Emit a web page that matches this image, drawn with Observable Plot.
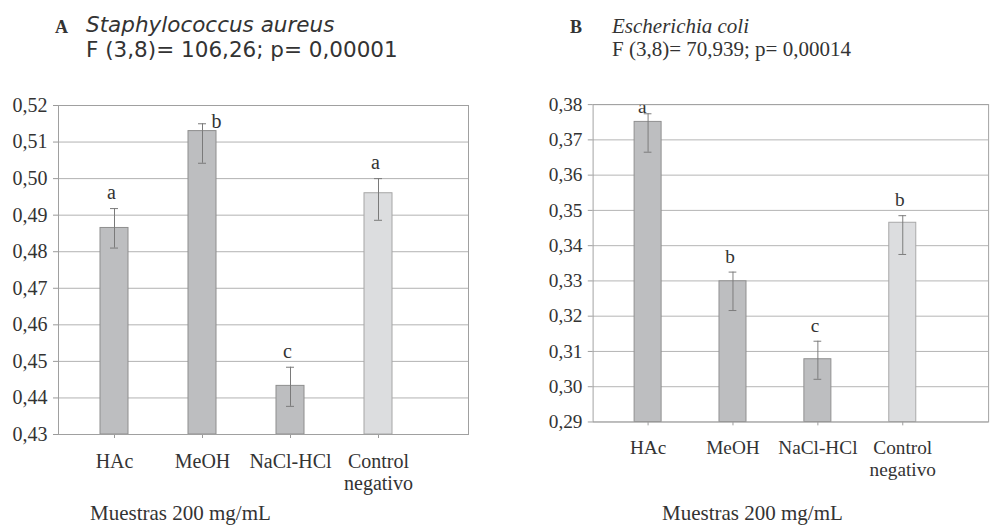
<!DOCTYPE html>
<html><head><meta charset="utf-8">
<script src="https://cdn.jsdelivr.net/npm/d3@7"></script>
<script src="https://cdn.jsdelivr.net/npm/@observablehq/plot@0.6"></script>
<style>
html,body{margin:0;padding:0;background:#fff;}
#wrap{position:relative;width:992px;height:525px;overflow:hidden;background:#fff;color:#333;}
.t{position:absolute;white-space:nowrap;line-height:1;color:#333;}
.serif{font-family:"Liberation Serif","Times New Roman",serif;}
.sans{font-family:"DejaVu Sans",Verdana,sans-serif;}
.panel{position:absolute;top:80px;}
</style></head><body>
<div id="wrap">
  <div class="t serif" style="left:55px;top:18px;font-size:18px;font-weight:bold">A</div>
  <div class="t sans" style="left:86px;top:14px;font-size:21.5px;font-style:italic">Staphylococcus aureus</div>
  <div class="t sans" style="left:86px;top:39px;font-size:21.5px">F (3,8)= 106,26; p= 0,00001</div>
  <div class="t serif" style="left:570px;top:18px;font-size:18px;font-weight:bold">B</div>
  <div class="t serif" style="left:612px;top:16px;font-size:21px;font-style:italic">Escherichia coli</div>
  <div class="t serif" style="left:612px;top:39px;font-size:21px">F (3,8)= 70,939; p= 0,00014</div>
  <div id="left" class="panel" style="left:0px"></div>
  <div id="right" class="panel" style="left:500px"></div>
  <div class="t serif" style="left:90px;top:503px;font-size:21px">Muestras 200 mg/mL</div>
  <div class="t serif" style="left:662px;top:503px;font-size:21px">Muestras 200 mg/mL</div>
</div>
<script>
// ---- data ----
const categories = ["HAc", "MeOH", "NaCl-HCl", "Control negativo"];
const tickLabels = ["HAc", "MeOH", "NaCl-HCl", "Control\nnegativo"];
const groups = ["muestra", "muestra", "muestra", "control"];

// A: Staphylococcus aureus
const saMean = [0.4865, 0.5130, 0.4433, 0.4960];
const saLow = [0.4810, 0.5042, 0.4377, 0.4886];
const saHigh = [0.4918, 0.5150, 0.4484, 0.5000];
const saLetters = ["a", "b", "c", "a"];
const saTicks = [0.43, 0.44, 0.45, 0.46, 0.47, 0.48, 0.49, 0.50, 0.51, 0.52];

// B: Escherichia coli
const ecMean = [0.3751, 0.3299, 0.3078, 0.3465];
const ecLow = [0.3665, 0.3216, 0.3021, 0.3375];
const ecHigh = [0.3774, 0.3325, 0.3129, 0.3485];
const ecLetters = ["a", "b", "c", "b"];
const ecTicks = [0.29, 0.30, 0.31, 0.32, 0.33, 0.34, 0.35, 0.36, 0.37, 0.38];

const serif = '"Liberation Serif","Times New Roman",serif';
const fmt = d => d.toFixed(2).replace(".", ",");

function panel({mean, low, high, letters, ticks, width, marginLeft, marginRight, xRange, padInner, topDx, topDy}) {
  const rows = categories.map((c, i) => ({cat: c, mean: mean[i], low: low[i], high: high[i], letter: letters[i], group: groups[i]}));
  const yMin = ticks[0], yMax = ticks[ticks.length - 1];
  const nearTop = d => d.high + 0.0055 > yMax;
  const errColor = "#7a7a7a";
  return Plot.plot({
    width, height: 445,
    marginTop: 25, marginBottom: 91, marginLeft, marginRight,
    style: {fontFamily: serif, fontSize: "20px", color: "#333", background: "transparent", overflow: "visible"},
    x: {domain: categories, range: xRange, paddingInner: padInner, paddingOuter: 0, align: 0.5},
    y: {domain: [yMin, yMax]},
    marks: [
      Plot.gridY(ticks, {stroke: "#b2b2b2", strokeOpacity: 1}),
      Plot.barY(rows.filter(d => d.group === "muestra"), {x: "cat", y1: yMin, y2: "mean", fill: "#bdbec0", stroke: "#8e8e8e"}),
      Plot.barY(rows.filter(d => d.group === "control"), {x: "cat", y1: yMin, y2: "mean", fill: "#dcdddf", stroke: "#a6a6a6"}),
      Plot.ruleX(rows, {x: "cat", y1: "low", y2: "high", stroke: errColor}),
      Plot.tickY(rows, {x: "cat", y: "high", stroke: errColor, insetLeft: 10, insetRight: 10}),
      Plot.tickY(rows, {x: "cat", y: "low", stroke: errColor, insetLeft: 10, insetRight: 10}),
      Plot.text(rows.filter(d => !nearTop(d)), {x: "cat", y: "high", text: "letter", dy: -16, dx: -3, fontSize: 20, fontFamily: serif, fill: "#333"}),
      Plot.text(rows.filter(nearTop), {x: "cat", y: "high", text: "letter", dy: topDy, dx: topDx, fontSize: 20, fontFamily: serif, fill: "#333"}),
      Plot.axisY(ticks, {tickSize: 5, tickPadding: 6, tickFormat: fmt, stroke: "#9a9a9a", fontSize: 20, fontFamily: serif, fontVariant: "normal", label: null}),
      Plot.axisX({tickSize: 4, tickPadding: 14, tickFormat: d => tickLabels[categories.indexOf(d)], stroke: "#9a9a9a", fontSize: 20, fontFamily: serif, lineHeight: 1.1, label: null}),
      Plot.frame({stroke: "#a0a0a0"})
    ]
  });
}

document.getElementById("left").appendChild(panel({
  mean: saMean, low: saLow, high: saHigh, letters: saLetters, ticks: saTicks,
  width: 500, marginLeft: 58, marginRight: 32, xRange: [100, 392], padInner: 0.682, topDx: 14, topDy: -2
}));
document.getElementById("right").appendChild(panel({
  mean: ecMean, low: ecLow, high: ecHigh, letters: ecLetters, ticks: ecTicks,
  width: 510, marginLeft: 96, marginRight: 4, xRange: [138, 432], padInner: 0.684, topDx: -6, topDy: -7
}));
</script>
</body></html>
